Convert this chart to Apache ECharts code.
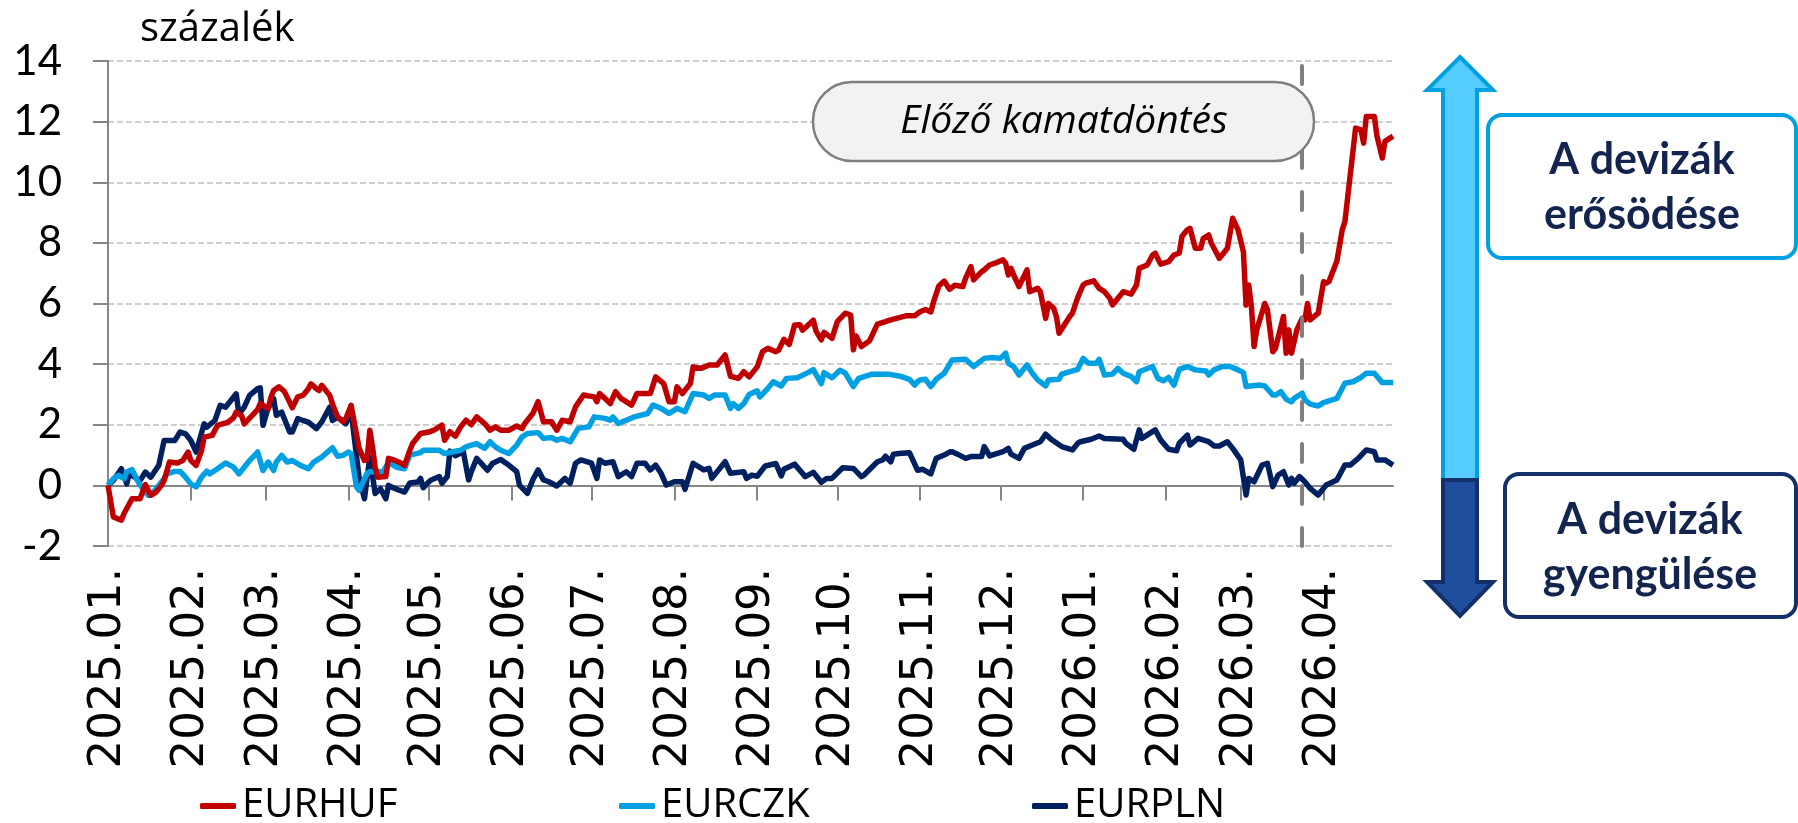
<!DOCTYPE html>
<html><head><meta charset="utf-8">
<script src="https://cdn.jsdelivr.net/npm/echarts@6/dist/echarts.min.js"></script>
<style>html,body{margin:0;padding:0;background:#fff}#chart{width:1798px;height:823px}</style>
</head><body><div id="chart"></div>
<script>
const seriesNames = ['EURHUF', 'EURCZK', 'EURPLN'];
const seriesColors = ['#C00000', '#00A0E3', '#002060'];
const monthTicks = ['2025-01-01','2025-02-01','2025-03-01','2025-04-01','2025-05-01','2025-06-01','2025-07-01','2025-08-01','2025-09-01','2025-10-01','2025-11-01','2025-12-01','2026-01-01','2026-02-01','2026-03-01','2026-04-01'];
const axisStart = '2025-01-01';
const axisEnd = '2026-04-27';
const decisionDate = '2026-03-24';
const yAxisTitle = 'százalék';
const annotationText = 'Előző kamatdöntés';
const strongText = ['A devizák', 'erősödése'];
const weakText = ['A devizák', 'gyengülése'];

const hufData = [
['2025-01-01',0],['2025-01-03',-1.04],['2025-01-06',-1.15],['2025-01-07',-0.93],['2025-01-10',-0.44],['2025-01-13',-0.44],['2025-01-15',0.03],['2025-01-17',-0.33],['2025-01-19',-0.22],['2025-01-21',0.0],['2025-01-22',0.16],['2025-01-24',0.77],['2025-01-27',0.74],['2025-01-29',0.82],['2025-01-31',1.10],
['2025-02-01',0.82],['2025-02-03',0.66],['2025-02-05',1.15],['2025-02-06',1.59],['2025-02-09',1.65],['2025-02-11',1.98],['2025-02-15',2.09],['2025-02-17',2.23],['2025-02-18',2.42],['2025-02-20',2.3],['2025-02-21',2.03],['2025-02-24',2.31],['2025-02-26',2.5],['2025-02-27',2.7],
['2025-03-02',2.53],['2025-03-03',2.91],['2025-03-04',3.13],['2025-03-06',3.25],['2025-03-08',3.1],['2025-03-09',2.92],['2025-03-11',2.56],['2025-03-13',2.92],['2025-03-15',2.97],['2025-03-17',3.19],['2025-03-18',3.35],['2025-03-20',3.19],['2025-03-21',3.13],['2025-03-22',3.3],['2025-03-25',2.97],['2025-03-26',2.69],['2025-03-28',2.25],['2025-03-30',2.1],['2025-03-31',2.2],
['2025-04-02',2.64],['2025-04-05',1.22],['2025-04-07',0.82],['2025-04-08',0.85],['2025-04-09',1.82],['2025-04-10',1.27],['2025-04-11',0.6],['2025-04-12',0.27],['2025-04-15',0.29],['2025-04-16',0.89],['2025-04-18',0.84],['2025-04-21',0.72],['2025-04-22',0.66],['2025-04-24',1.16],['2025-04-25',1.38],['2025-04-28',1.71],
['2025-05-01',1.76],['2025-05-03',1.82],['2025-05-06',1.99],['2025-05-07',1.49],['2025-05-09',1.77],['2025-05-11',1.62],['2025-05-13',1.93],['2025-05-15',2.15],['2025-05-17',2.0],['2025-05-19',2.26],['2025-05-22',2.04],['2025-05-24',1.82],['2025-05-26',1.93],['2025-05-28',1.82],['2025-05-31',1.82],
['2025-06-03',1.96],['2025-06-05',1.88],['2025-06-06',2.04],['2025-06-09',2.37],['2025-06-11',2.76],['2025-06-13',2.1],['2025-06-16',2.1],['2025-06-18',1.82],['2025-06-20',2.15],['2025-06-23',2.1],['2025-06-25',2.59],['2025-06-28',2.98],
['2025-07-02',2.92],['2025-07-03',2.76],['2025-07-04',3.03],['2025-07-06',2.87],['2025-07-08',2.7],['2025-07-10',3.09],['2025-07-12',2.87],['2025-07-16',2.65],['2025-07-18',3.03],['2025-07-23',3.03],['2025-07-25',3.58],['2025-07-28',3.36],['2025-07-30',2.76],
['2025-08-01',2.76],['2025-08-02',3.25],['2025-08-04',3.03],['2025-08-07',3.36],['2025-08-08',3.91],['2025-08-11',3.86],['2025-08-14',3.97],['2025-08-17',3.97],['2025-08-20',4.3],['2025-08-22',3.6],['2025-08-25',3.53],['2025-08-27',3.75],['2025-08-29',3.58],
['2025-09-01',3.91],['2025-09-03',4.41],['2025-09-05',4.52],['2025-09-08',4.41],['2025-09-09',4.46],['2025-09-11',4.82],['2025-09-13',4.65],['2025-09-15',5.29],['2025-09-17',5.3],['2025-09-18',5.12],['2025-09-19',5.2],['2025-09-22',5.45],['2025-09-23',5.1],['2025-09-25',4.8],['2025-09-26',5.05],['2025-09-29',4.85],
['2025-10-01',5.4],['2025-10-04',5.68],['2025-10-06',5.62],['2025-10-07',4.47],['2025-10-08',4.93],['2025-10-10',4.58],['2025-10-13',4.76],['2025-10-16',5.32],['2025-10-19',5.4],['2025-10-21',5.46],['2025-10-27',5.6],['2025-10-30',5.6],
['2025-11-01',5.73],['2025-11-03',5.8],['2025-11-05',5.72],['2025-11-06',6.05],['2025-11-08',6.58],['2025-11-10',6.74],['2025-11-12',6.47],['2025-11-14',6.6],['2025-11-17',6.56],['2025-11-18',6.83],['2025-11-20',7.22],['2025-11-21',6.78],['2025-11-24',7.05],['2025-11-25',7.11],['2025-11-27',7.27],['2025-11-29',7.33],
['2025-12-02',7.44],['2025-12-03',7.33],['2025-12-04',6.94],['2025-12-05',7.16],['2025-12-06',6.94],['2025-12-08',6.56],['2025-12-11',7.11],['2025-12-12',6.39],['2025-12-15',6.5],['2025-12-16',6.39],['2025-12-18',5.51],['2025-12-19',6.0],['2025-12-21',5.84],['2025-12-22',5.57],['2025-12-23',5.02],['2025-12-27',5.57],['2025-12-28',5.68],['2025-12-30',6.2],
['2026-01-01',6.61],['2026-01-02',6.67],['2026-01-05',6.75],['2026-01-07',6.5],['2026-01-09',6.39],['2026-01-11',6.17],['2026-01-12',5.95],['2026-01-16',6.39],['2026-01-19',6.31],['2026-01-21',6.61],['2026-01-22',7.16],['2026-01-25',7.27],['2026-01-27',7.6],['2026-01-28',7.66],['2026-01-30',7.3],
['2026-02-02',7.38],['2026-02-04',7.6],['2026-02-06',7.66],['2026-02-07',8.21],['2026-02-09',8.43],['2026-02-10',8.48],['2026-02-12',7.82],['2026-02-14',7.82],['2026-02-15',8.15],['2026-02-17',8.26],['2026-02-18',7.99],['2026-02-19',7.82],['2026-02-21',7.49],['2026-02-23',7.71],['2026-02-24',7.82],['2026-02-26',8.81],['2026-02-28',8.43],
['2026-03-02',7.7],['2026-03-03',5.95],['2026-03-04',6.61],['2026-03-05',5.9],['2026-03-06',4.58],['2026-03-07',5.13],['2026-03-10',6.0],['2026-03-11',5.79],['2026-03-13',4.41],['2026-03-14',4.52],['2026-03-17',5.57],['2026-03-18',4.36],['2026-03-19',5.13],['2026-03-20',4.36],['2026-03-22',5.13],['2026-03-24',5.51],['2026-03-25',5.46],['2026-03-26',6.0],['2026-03-27',5.46],['2026-03-30',5.68],
['2026-04-01',6.72],['2026-04-02',6.67],['2026-04-03',6.72],['2026-04-06',7.4],['2026-04-08',8.43],['2026-04-09',8.7],['2026-04-13',11.79],['2026-04-15',11.73],['2026-04-16',11.29],['2026-04-17',12.17],['2026-04-20',12.17],['2026-04-21',11.52],['2026-04-23',10.8],['2026-04-24',11.35],['2026-04-27',11.52]
];

const czkData = [
['2025-01-01',0],['2025-01-03',0.22],['2025-01-05',0.33],['2025-01-07',0.22],['2025-01-08',0.44],['2025-01-10',0.52],['2025-01-12',0.16],['2025-01-14',-0.11],['2025-01-16',-0.33],['2025-01-18',-0.22],['2025-01-20',0],['2025-01-22',0.22],['2025-01-23',0.38],['2025-01-26',0.46],['2025-01-28',0.46],['2025-01-30',0.27],
['2025-02-01',0.05],['2025-02-03',-0.05],['2025-02-05',0.27],['2025-02-07',0.47],['2025-02-08',0.38],['2025-02-11',0.55],['2025-02-14',0.74],['2025-02-17',0.6],['2025-02-19',0.38],['2025-02-21',0.6],['2025-02-23',0.82],['2025-02-26',1.1],['2025-02-28',0.49],
['2025-03-02',0.77],['2025-03-04',0.49],['2025-03-05',0.77],['2025-03-07',0.99],['2025-03-09',0.77],['2025-03-11',0.82],['2025-03-14',0.66],['2025-03-17',0.55],['2025-03-19',0.77],['2025-03-22',0.93],['2025-03-26',1.24],['2025-03-28',0.96],['2025-03-30',0.99],
['2025-04-01',1.1],['2025-04-02',1.05],['2025-04-04',-0.05],['2025-04-05',-0.16],['2025-04-08',0.4],['2025-04-09',0.45],['2025-04-14',0.45],['2025-04-16',0.76],['2025-04-19',0.6],['2025-04-22',0.55],['2025-04-24',1.0],['2025-04-28',1.08],['2025-04-29',1.16],
['2025-05-05',1.16],['2025-05-07',1.05],['2025-05-13',1.16],['2025-05-15',1.27],['2025-05-17',1.33],['2025-05-19',1.38],['2025-05-22',1.22],['2025-05-24',1.44],['2025-05-26',1.27],['2025-05-28',1.16],['2025-05-31',1.05],
['2025-06-03',1.33],['2025-06-05',1.6],['2025-06-07',1.71],['2025-06-11',1.74],['2025-06-13',1.55],['2025-06-16',1.58],['2025-06-18',1.49],['2025-06-20',1.55],['2025-06-23',1.44],['2025-06-26',1.88],['2025-06-30',1.93],
['2025-07-02',2.26],['2025-07-06',2.21],['2025-07-08',2.15],['2025-07-09',2.26],['2025-07-11',2.04],['2025-07-14',2.15],['2025-07-17',2.26],['2025-07-22',2.37],['2025-07-24',2.65],['2025-07-27',2.54],['2025-07-30',2.37],
['2025-08-02',2.54],['2025-08-05',2.43],['2025-08-08',3.03],['2025-08-12',2.98],['2025-08-14',2.87],['2025-08-16',2.98],['2025-08-20',2.98],['2025-08-22',2.54],['2025-08-23',2.7],['2025-08-25',2.54],['2025-08-27',2.7],['2025-08-29',3.0],
['2025-09-01',3.12],['2025-09-02',2.92],['2025-09-05',3.2],['2025-09-07',3.42],['2025-09-10',3.28],['2025-09-12',3.53],['2025-09-16',3.55],['2025-09-20',3.72],['2025-09-22',3.82],['2025-09-25',3.36],['2025-09-26',3.72],['2025-09-29',3.55],
['2025-10-02',3.8],['2025-10-04',3.7],['2025-10-07',3.26],['2025-10-09',3.53],['2025-10-14',3.67],['2025-10-20',3.67],['2025-10-25',3.59],['2025-10-28',3.5],['2025-10-30',3.31],['2025-10-31',3.42],
['2025-11-01',3.48],['2025-11-03',3.5],['2025-11-05',3.26],['2025-11-07',3.5],['2025-11-10',3.7],['2025-11-13',4.14],['2025-11-18',4.16],['2025-11-21',3.92],['2025-11-25',4.19],['2025-11-28',4.22],
['2025-12-01',4.19],['2025-12-03',4.36],['2025-12-04',4.03],['2025-12-06',3.92],['2025-12-08',3.64],['2025-12-11',3.97],['2025-12-13',3.7],['2025-12-15',3.48],['2025-12-18',3.28],['2025-12-19',3.48],['2025-12-23',3.5],['2025-12-24',3.67],['2025-12-30',3.83],
['2026-01-01',4.19],['2026-01-03',4.03],['2026-01-06',4.03],['2026-01-07',4.16],['2026-01-09',3.64],['2026-01-12',3.67],['2026-01-14',3.86],['2026-01-16',3.7],['2026-01-19',3.59],['2026-01-21',3.42],['2026-01-22',3.75],['2026-01-27',3.92],['2026-01-29',3.53],['2026-01-31',3.45],
['2026-02-02',3.56],['2026-02-04',3.31],['2026-02-06',3.83],['2026-02-09',3.92],['2026-02-12',3.81],['2026-02-16',3.77],['2026-02-17',3.64],['2026-02-19',3.81],['2026-02-22',3.92],['2026-02-25',3.92],['2026-02-28',3.81],
['2026-03-02',3.72],['2026-03-03',3.26],['2026-03-08',3.31],['2026-03-10',3.28],['2026-03-13',2.98],['2026-03-14',2.98],['2026-03-16',3.09],['2026-03-18',2.84],['2026-03-20',2.76],['2026-03-21',2.87],['2026-03-24',3.04],['2026-03-25',2.82],['2026-03-27',2.68],['2026-03-30',2.62],
['2026-04-01',2.73],['2026-04-06',2.87],['2026-04-09',3.37],['2026-04-12',3.42],['2026-04-15',3.56],['2026-04-17',3.7],['2026-04-20',3.7],['2026-04-23',3.39],['2026-04-27',3.39]
];

const plnData = [
['2025-01-01',0],['2025-01-03',0.16],['2025-01-06',0.55],['2025-01-08',0.05],['2025-01-09',0.38],['2025-01-11',0.27],['2025-01-13',0.16],['2025-01-15',0.44],['2025-01-17',0.27],['2025-01-20',0.66],['2025-01-22',1.48],['2025-01-26',1.48],['2025-01-28',1.76],['2025-01-30',1.7],
['2025-02-01',1.48],['2025-02-03',1.1],['2025-02-06',2.03],['2025-02-07',1.92],['2025-02-10',2.14],['2025-02-12',2.64],['2025-02-14',2.58],['2025-02-16',2.8],['2025-02-18',3.02],['2025-02-19',2.36],['2025-02-21',2.58],['2025-02-23',2.97],['2025-02-26',3.19],['2025-02-27',3.22],['2025-02-28',1.98],
['2025-03-02',2.58],['2025-03-03',2.69],['2025-03-04',2.86],['2025-03-05',2.31],['2025-03-07',2.42],['2025-03-10',1.76],['2025-03-11',1.76],['2025-03-13',2.2],['2025-03-15',2.14],['2025-03-17',2.09],['2025-03-20',1.87],['2025-03-22',2.09],['2025-03-25',2.58],['2025-03-26',2.14],['2025-03-28',2.25],['2025-03-31',2.03],
['2025-04-02',2.45],['2025-04-05',0.25],['2025-04-07',-0.44],['2025-04-09',0.93],['2025-04-11',-0.27],['2025-04-13',-0.11],['2025-04-15',-0.44],['2025-04-16',0],['2025-04-17',-0.05],['2025-04-20',-0.16],['2025-04-22',-0.22],['2025-04-24',0.08],['2025-04-27',0.11],['2025-04-28',0.23],['2025-04-29',-0.08],
['2025-05-01',0.11],['2025-05-02',0.18],['2025-05-05',0.29],['2025-05-06',0.07],['2025-05-08',0.29],['2025-05-09',1.13],['2025-05-11',0.98],['2025-05-14',1.11],['2025-05-16',0.18],['2025-05-17',0.45],['2025-05-19',0.89],['2025-05-23',0.5],['2025-05-25',0.73],['2025-05-28',0.85],['2025-05-31',0.67],
['2025-06-03',0.45],['2025-06-04',0.01],['2025-06-07',-0.26],['2025-06-09',0.18],['2025-06-11',0.51],['2025-06-13',0.18],['2025-06-15',0.12],['2025-06-18',-0.02],['2025-06-21',0.23],['2025-06-23',0.07],['2025-06-25',0.73],['2025-06-27',0.84],
['2025-07-01',0.73],['2025-07-03',0.23],['2025-07-04',0.84],['2025-07-06',0.73],['2025-07-09',0.78],['2025-07-11',0.29],['2025-07-14',0.45],['2025-07-16',0.29],['2025-07-18',0.73],['2025-07-21',0.73],['2025-07-23',0.51],['2025-07-25',0.67],['2025-07-27',0.4],['2025-07-29',0.01],
['2025-08-01',0.12],['2025-08-04',0.12],['2025-08-05',-0.13],['2025-08-08',0.73],['2025-08-12',0.51],['2025-08-14',0.56],['2025-08-15',0.23],['2025-08-20',0.78],['2025-08-22',0.4],['2025-08-27',0.45],['2025-08-28',0.23],['2025-08-30',0.34],
['2025-09-01',0.3],['2025-09-04',0.64],['2025-09-08',0.72],['2025-09-10',0.31],['2025-09-11',0.53],['2025-09-15',0.7],['2025-09-19',0.29],['2025-09-22',0.43],['2025-09-25',0.1],['2025-09-27',0.23],['2025-09-29',0.23],
['2025-10-03',0.58],['2025-10-07',0.56],['2025-10-10',0.29],['2025-10-11',0.34],['2025-10-16',0.78],['2025-10-18',0.84],['2025-10-19',0.96],['2025-10-21',0.78],['2025-10-22',1.03],['2025-10-24',1.05],['2025-10-28',1.08],['2025-10-31',0.5],
['2025-11-02',0.53],['2025-11-05',0.38],['2025-11-07',0.89],['2025-11-10',1.0],['2025-11-12',1.1],['2025-11-13',1.11],['2025-11-15',1.03],['2025-11-18',0.89],['2025-11-20',0.95],['2025-11-24',0.95],['2025-11-25',1.28],['2025-11-27',0.97],
['2025-12-02',1.11],['2025-12-04',1.22],['2025-12-05',1.03],['2025-12-08',0.89],['2025-12-10',1.22],['2025-12-13',1.33],['2025-12-16',1.44],['2025-12-18',1.69],['2025-12-20',1.52],['2025-12-24',1.28],['2025-12-28',1.17],['2025-12-30',1.39],['2025-12-31',1.44],
['2026-01-04',1.52],['2026-01-07',1.63],['2026-01-09',1.55],['2026-01-16',1.52],['2026-01-17',1.39],['2026-01-20',1.19],['2026-01-22',1.83],['2026-01-23',1.55],['2026-01-28',1.83],['2026-01-30',1.5],
['2026-02-02',1.19],['2026-02-05',1.14],['2026-02-06',1.39],['2026-02-09',1.66],['2026-02-10',1.33],['2026-02-13',1.55],['2026-02-17',1.44],['2026-02-19',1.3],['2026-02-21',1.3],['2026-02-24',1.44],['2026-02-26',1.22],
['2026-03-01',0.84],['2026-03-03',-0.32],['2026-03-04',0.23],['2026-03-06',0.12],['2026-03-09',0.67],['2026-03-11',0.73],['2026-03-13',-0.04],['2026-03-15',0.34],['2026-03-17',0.45],['2026-03-19',0.01],['2026-03-20',0.23],['2026-03-21',0.07],['2026-03-23',0.29],['2026-03-25',0.12],['2026-03-27',-0.1],['2026-03-30',-0.32],
['2026-04-02',0.01],['2026-04-06',0.18],['2026-04-09',0.67],['2026-04-11',0.67],['2026-04-14',0.89],['2026-04-17',1.17],['2026-04-20',1.11],['2026-04-21',0.84],['2026-04-24',0.84],['2026-04-27',0.67]
];

const allData = [hufData, czkData, plnData];
const toTime = s => { const p = s.split('-').map(Number); return new Date(p[0], p[1] - 1, p[2]).getTime(); };
const tickValues = monthTicks.map(toTime);
const fmtMonth = v => { const d = new Date(v); return d.getFullYear() + '.' + String(d.getMonth() + 1).padStart(2, '0') + '.'; };

const chart = echarts.init(document.getElementById('chart'));
const axisGrey = '#868686';
const legendLeft = [200, 619, 1032];
const xMin = toTime(axisStart), xMax = toTime(axisEnd);

const option = {
  animation: false,
  backgroundColor: '#ffffff',
  grid: { left: 108, top: 61, width: 1285, height: 485, containLabel: false },
  xAxis: [
    {
      type: 'value', min: xMin, max: xMax, position: 'bottom',
      axisLine: { show: false, onZero: false }, axisTick: { show: false }, splitLine: { show: false },
      axisLabel: { customValues: tickValues, rotate: 90, margin: 22, fontFamily: 'DejaVu Sans', fontSize: 45, color: '#000', formatter: fmtMonth, showMinLabel: true, showMaxLabel: true }
    },
    {
      type: 'value', min: xMin, max: xMax, position: 'bottom',
      axisLine: { show: true, onZero: true, lineStyle: { color: axisGrey, width: 2 } },
      axisTick: { show: true, customValues: tickValues, length: 15, lineStyle: { color: axisGrey, width: 2 } },
      axisLabel: { show: false }, splitLine: { show: false }
    }
  ],
  yAxis: {
    type: 'value', min: -2, max: 14, interval: 2,
    axisLine: { show: true, onZero: false, lineStyle: { color: axisGrey, width: 2 } },
    axisTick: { show: true, length: 15, lineStyle: { color: axisGrey, width: 2 } },
    axisLabel: { margin: 46, fontFamily: 'Lato', fontSize: 42, color: '#000' },
    splitLine: { show: true, lineStyle: { color: '#BFBFBF', width: 1.5, type: [6, 3] } }
  },
  legend: seriesNames.map((n, i) => ({
    data: [n], left: legendLeft[i], top: 786, padding: 0,
    icon: 'roundRect', itemWidth: 36, itemHeight: 6, itemGap: 0,
    textStyle: { fontFamily: 'Open Sans', fontSize: 40, lineHeight: 40, color: '#000', padding: [0, 0, 0, 1] },
    selectedMode: false
  })),
  series: seriesNames.map((n, i) => ({
    name: n, type: 'line', xAxisIndex: 0, data: allData[i].map(p => [toTime(p[0]), p[1]]), showSymbol: false, symbol: 'none',
    lineStyle: { color: seriesColors[i], width: 5.5, join: 'round' }, itemStyle: { color: seriesColors[i] },
    z: 3 - i,
    markLine: i === 0 ? {
      silent: true, symbol: ['none', 'none'], label: { show: false },
      lineStyle: { color: '#7F7F7F', width: 4, type: [18, 24], cap: 'round' },
      emphasis: { disabled: true },
      data: [{ xAxis: toTime(decisionDate) }]
    } : undefined
  })),
  graphic: [
    { type: 'text', left: 140, top: 10, z: 100, style: { text: yAxisTitle, font: '40px "Open Sans"', fill: '#000' } },
    { type: 'rect', z: 100, shape: { x: 813, y: 82, width: 501, height: 79, r: 39 }, style: { fill: '#F2F2F2', stroke: '#7F7F7F', lineWidth: 2.5 } },
    { type: 'text', z: 101, x: 1064, y: 122, style: { text: annotationText, font: 'italic 39px "Open Sans"', fill: '#000', align: 'center', verticalAlign: 'middle' } },
    { type: 'polygon', z: 100, shape: { points: [[1460,57],[1493,90],[1477,90],[1477,480],[1443,480],[1443,90],[1427,90]] }, style: { fill: '#55CCFF', stroke: '#00A0E3', lineWidth: 4 } },
    { type: 'polygon', z: 100, shape: { points: [[1443,480],[1477,480],[1477,582],[1493,582],[1460,616],[1427,582],[1443,582]] }, style: { fill: '#1F4E9F', stroke: '#14306A', lineWidth: 4 } },
    { type: 'rect', z: 100, shape: { x: 1488, y: 115, width: 308, height: 143, r: 14 }, style: { fill: '#fff', stroke: '#00A0E3', lineWidth: 4 } },
    { type: 'text', z: 101, x: 1642, y: 160, style: { text: strongText[0], font: 'bold 43px Lato', fill: '#13254F', align: 'center', verticalAlign: 'middle' } },
    { type: 'text', z: 101, x: 1642, y: 215, style: { text: strongText[1], font: 'bold 43px Lato', fill: '#13254F', align: 'center', verticalAlign: 'middle' } },
    { type: 'rect', z: 100, shape: { x: 1505, y: 474, width: 291, height: 143, r: 14 }, style: { fill: '#fff', stroke: '#14306A', lineWidth: 4 } },
    { type: 'text', z: 101, x: 1650, y: 520, style: { text: weakText[0], font: 'bold 43px Lato', fill: '#13254F', align: 'center', verticalAlign: 'middle' } },
    { type: 'text', z: 101, x: 1650, y: 575, style: { text: weakText[1], font: 'bold 43px Lato', fill: '#13254F', align: 'center', verticalAlign: 'middle' } }
  ]
};
chart.setOption(option);
</script>
</body></html>
